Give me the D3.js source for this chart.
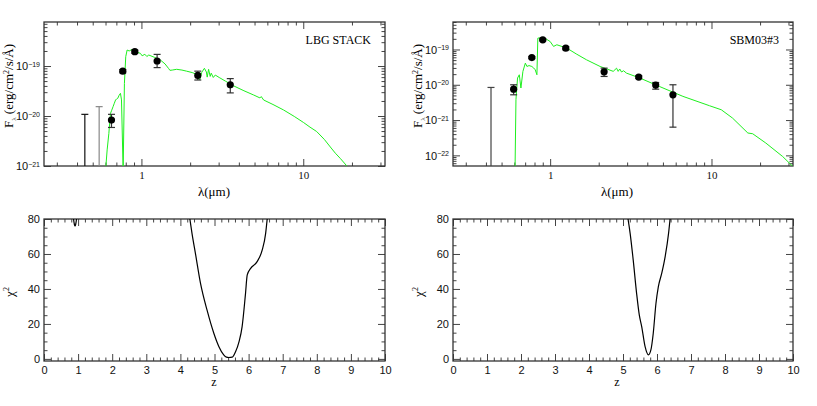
<!DOCTYPE html>
<html>
<head>
<meta charset="utf-8">
<script src="https://cdn.jsdelivr.net/npm/d3@7"></script>
<style>
  body { margin: 0; background: #fff; }
  svg { display: block; }
</style>
</head>
<body>
<script>
// ---- data ----
// LBG STACK: model spectrum (micron, erg/cm2/s/A)
var lbgWave = [0.600, 0.614, 0.629, 0.644, 0.655, 0.668, 0.680, 0.692, 0.703, 0.714, 0.728, 0.742, 0.753, 0.771,
  0.785, 0.800, 0.816, 0.840, 0.876, 0.92, 0.986, 1.01, 1.05, 1.08, 1.11, 1.20, 1.31, 1.40, 1.47, 1.50, 1.55, 1.65,
  1.78, 1.90, 2.06, 2.15, 2.29, 2.36, 2.45, 2.52, 2.55, 2.60, 2.66, 2.70, 2.78, 2.86, 3.05, 3.30, 3.72, 4.30, 4.94,
  5.40, 5.50, 5.69, 6.50, 7.56, 8.80, 10.05, 11.0, 12.1, 13.5, 14.7, 15.8, 17.0, 18.6, 19.5];
var lbgFlux = [8e-22, 2.1e-21, 4.5e-21, 1.13e-20, 1.3e-20, 1.54e-20, 1.8e-20, 2.09e-20, 2.2e-20, 2.26e-20, 2.6e-20,
  2.84e-20, 2.1e-20, 8e-22, 4.5e-20, 1.54e-19, 2.09e-19, 2.0e-19, 2.15e-19, 1.95e-19, 1.79e-19, 1.6e-19, 1.72e-19,
  1.55e-19, 1.66e-19, 1.5e-19, 1.32e-19, 1.1e-19, 8.98e-20, 8.2e-20, 8.3e-20, 8.6e-20, 8.3e-20, 7.9e-20, 7.4e-20,
  7.0e-20, 5.25e-20, 7.5e-20, 9.0e-20, 7.6e-20, 6.0e-20, 8.6e-20, 6.2e-20, 7.2e-20, 5.9e-20, 6.6e-20, 5.8e-20,
  5.0e-20, 4.0e-20, 3.2e-20, 2.63e-20, 2.3e-20, 2.45e-20, 2.09e-20, 1.7e-20, 1.32e-20, 9.8e-21, 7.4e-21, 6.0e-21,
  4.9e-21, 3.4e-21, 2.4e-21, 1.8e-21, 1.4e-21, 1.0e-21, 8.5e-22];
// LBG STACK: photometry
var lbgPhotWave = [0.653, 0.767, 0.91, 1.25, 2.23, 3.54];
var lbgPhotFlux = [8.3e-21, 7.9e-20, 1.94e-19, 1.26e-19, 6.5e-20, 4.2e-20];
var lbgPhotLo = [5.9e-21, 7.3e-20, 1.80e-19, 9.3e-20, 5.25e-20, 2.9e-20];
var lbgPhotHi = [1.08e-20, 8.5e-20, 2.08e-19, 1.71e-19, 7.9e-20, 5.6e-20];
var lbgLimWave = [0.447, 0.548];
var lbgLimFlux = [1.08e-20, 1.54e-20];

// SBM03#3: model spectrum
var sbmWave = [0.606, 0.614, 0.628, 0.644, 0.659, 0.678, 0.702, 0.718, 0.740, 0.770, 0.790, 0.808, 0.828, 0.839,
  0.870, 0.91, 1.00, 1.05, 1.10, 1.27, 1.45, 1.68, 2.04, 2.46, 2.58, 2.64, 2.70, 2.77, 2.85, 2.97, 3.60, 4.77, 6.65,
  9.72, 11.5, 13.5, 16.8, 18.0, 21.7, 27.6, 32.0];
var sbmFlux = [4e-23, 3.8e-21, 1.55e-20, 1.92e-20, 8.1e-21, 2.4e-20, 4.1e-20, 3.3e-20, 3.5e-20, 3.3e-20,
  3.0e-20, 2.66e-20, 1.92e-20, 2.09e-19, 2.15e-19, 2.2e-19, 1.68e-19, 1.22e-19, 1.36e-19, 1.09e-19, 7.5e-20,
  5.1e-20, 3.3e-20, 2.4e-20, 2.95e-20, 2.4e-20, 2.8e-20, 2.3e-20, 2.5e-20, 2.14e-20, 1.55e-20, 8.9e-21, 4.7e-21,
  2.55e-21, 1.96e-21, 1.14e-21, 4.3e-22, 4.1e-22, 2.24e-22, 9.3e-23, 4.8e-23];
// SBM03#3: photometry
var sbmPhotWave = [0.594, 0.77, 0.90, 1.25, 2.16, 3.54, 4.51, 5.77];
var sbmPhotFlux = [7.5e-21, 5.9e-20, 1.88e-19, 1.09e-19, 2.33e-20, 1.65e-20, 9.8e-21, 5.2e-21];
var sbmPhotLo = [5.2e-21, 5.5e-20, 1.75e-19, 9.8e-20, 1.72e-20, 1.5e-20, 7.5e-21, 6.3e-22];
var sbmPhotHi = [1.0e-20, 6.3e-20, 2.0e-19, 1.2e-19, 2.96e-20, 1.8e-20, 1.16e-20, 1.0e-20];
var sbmLimWave = [0.43];
var sbmLimFlux = [8.4e-21];

// chi-square vs redshift
var lbgChiZ = [0.86, 0.89, 0.91, 0.93, 0.96, 4.27, 4.34, 4.44, 4.59, 4.78, 4.98, 5.13, 5.27, 5.35, 5.42, 5.52,
  5.62, 5.72, 5.81, 5.91, 5.96, 6.06, 6.25, 6.40, 6.50, 6.55];
var lbgChi = [81, 77, 76, 77, 81, 81, 71.8, 60.4, 43.2, 28, 14.7, 7, 2.3, 1.0, 0.8, 1.0, 4.2, 9.9, 18.5, 37.5, 48,
  51.8, 55.6, 62.3, 71.8, 81];
var sbmChiZ = [5.14, 5.21, 5.30, 5.40, 5.48, 5.55, 5.65, 5.75, 5.82, 5.89, 5.97, 6.04, 6.14, 6.24, 6.34, 6.39];
var sbmChi = [81, 71.8, 56.6, 37.5, 25, 18.5, 7, 2.3, 5.1, 14.7, 31.8, 41.3, 49, 58.5, 71.8, 81];

var svg = d3.select("body").append("svg")
  .attr("width", 817)
  .attr("height", 406);

var serif = "'Liberation Serif', 'Times New Roman', serif";
var sans = "'Liberation Sans', Arial, sans-serif";

function zip(a, b) { return a.map(function (v, i) { return [v, b[i]]; }); }

function minorLog(lo, hi) {
  var out = [];
  for (var e = -25; e < 3; e++) {
    for (var m = 2; m <= 9; m++) {
      var v = m * Math.pow(10, e);
      if (v >= lo && v <= hi) out.push(v);
    }
  }
  return out;
}
function majorLog(lo, hi) {
  var out = [];
  for (var e = -25; e < 3; e++) {
    var v = Math.pow(10, e);
    if (v >= lo * 0.999 && v <= hi) out.push(v);
  }
  return out;
}

// draw axes with inward ticks on all four sides
function frameAxes(g, x, y, w, h, xMaj, xMin, yMaj, yMin, xFmt, yFmt, xFont, yFont) {
  var tc = "#444";
  function style(sel, fam) {
    sel.select(".domain").remove();
    sel.selectAll(".tick line").attr("stroke", tc).attr("stroke-width", 1);
    sel.selectAll(".tick text").attr("font-family", fam).attr("font-size", 11).attr("fill", "#111");
  }
  g.append("g").attr("transform", "translate(0," + h + ")")
    .call(d3.axisBottom(x).tickValues(xMaj).tickSizeInner(-7).tickSizeOuter(0).tickPadding(5).tickFormat(xFmt))
    .call(style, xFont);
  g.append("g").attr("transform", "translate(0," + h + ")")
    .call(d3.axisBottom(x).tickValues(xMin).tickSizeInner(-3.5).tickSizeOuter(0).tickFormat(""))
    .call(style, xFont);
  g.append("g")
    .call(d3.axisTop(x).tickValues(xMaj).tickSizeInner(-7).tickSizeOuter(0).tickFormat(""))
    .call(style, xFont);
  g.append("g")
    .call(d3.axisTop(x).tickValues(xMin).tickSizeInner(-3.5).tickSizeOuter(0).tickFormat(""))
    .call(style, xFont);
  var ly = g.append("g")
    .call(d3.axisLeft(y).tickValues(yMaj).tickSizeInner(-7).tickSizeOuter(0).tickPadding(4).tickFormat(yFmt))
    .call(style, yFont);
  g.append("g")
    .call(d3.axisLeft(y).tickValues(yMin).tickSizeInner(-3.5).tickSizeOuter(0).tickFormat(""))
    .call(style, yFont);
  g.append("g").attr("transform", "translate(" + w + ",0)")
    .call(d3.axisRight(y).tickValues(yMaj).tickSizeInner(-7).tickSizeOuter(0).tickFormat(""))
    .call(style, yFont);
  g.append("g").attr("transform", "translate(" + w + ",0)")
    .call(d3.axisRight(y).tickValues(yMin).tickSizeInner(-3.5).tickSizeOuter(0).tickFormat(""))
    .call(style, yFont);
  g.append("rect").attr("width", w).attr("height", h)
    .attr("fill", "none").attr("stroke", "#333").attr("stroke-width", 1.3);
  return ly;
}

function sedPanel(id, left, top, w, h, yDomain, spec, phot, lims, limColors, label, titleX) {
  var g = svg.append("g").attr("transform", "translate(" + left + "," + top + ")");
  var x = d3.scaleLog().domain([0.25, 32]).range([0, w]);
  var y = d3.scaleLog().domain(yDomain).range([h, 0]);

  g.append("clipPath").attr("id", id).append("rect").attr("width", w).attr("height", h);

  var ly = frameAxes(g, x, y, w, h,
    [1, 10], minorLog(0.25, 32),
    majorLog(yDomain[0], yDomain[1]), minorLog(yDomain[0], yDomain[1]),
    function (d) { return d3.format("d")(d); }, "", serif, sans);

  // 10^n labels with superscript
  ly.selectAll(".tick text").each(function (d) {
    var t = d3.select(this).text(null).attr("font-size", 11).attr("dy", "0.35em");
    t.append("tspan").text("10");
    t.append("tspan").attr("dy", "-0.55em").attr("font-size", 7).text("\u2212" + Math.round(-Math.log10(d)));
  });

  var plot = g.append("g").attr("clip-path", "url(#" + id + ")");

  // upper limits
  lims.forEach(function (p, i) {
    var px = x(p[0]);
    plot.append("line").attr("x1", px).attr("x2", px).attr("y1", y(p[1])).attr("y2", h)
      .attr("stroke", limColors[i]).attr("stroke-width", 1.2);
    plot.append("line").attr("x1", px - 3.5).attr("x2", px + 3.5).attr("y1", y(p[1])).attr("y2", y(p[1]))
      .attr("stroke", limColors[i]).attr("stroke-width", 1.2);
  });

  var line = d3.line().x(function (d) { return x(d[0]); }).y(function (d) { return y(d[1]); });
  plot.append("path").datum(spec).attr("d", line)
    .attr("fill", "none").attr("stroke", "#1ef01e").attr("stroke-width", 1);

  // error bars
  phot.forEach(function (p) {
    var px = x(p[0]);
    plot.append("line").attr("x1", px).attr("x2", px).attr("y1", y(p[3])).attr("y2", y(p[2]))
      .attr("stroke", "#333").attr("stroke-width", 1.2);
    [p[2], p[3]].forEach(function (v) {
      plot.append("line").attr("x1", px - 3.5).attr("x2", px + 3.5).attr("y1", y(v)).attr("y2", y(v))
        .attr("stroke", "#333").attr("stroke-width", 1.2);
    });
  });
  plot.selectAll("circle.pt").data(phot).enter().append("circle")
    .attr("cx", function (d) { return x(d[0]); })
    .attr("cy", function (d) { return y(d[1]); })
    .attr("r", 3.6).attr("fill", "#000");

  g.append("text").attr("x", w - 14).attr("y", 22).attr("text-anchor", "end")
    .attr("font-family", serif).attr("font-size", 12).text(label);

  g.append("text").attr("x", titleX)
    .attr("y", h + 30).attr("text-anchor", "middle")
    .attr("font-family", serif).attr("font-size", 13).text("\u03bb(\u03bcm)");

  var yl = g.append("text").attr("transform", "translate(" + (-31) + "," + (h / 2 - 8) + ") rotate(-90)")
    .attr("text-anchor", "middle").attr("font-family", serif).attr("font-size", 13);
  yl.append("tspan").text("F");
  yl.append("tspan").attr("dy", 3).attr("font-size", 7).text("\u03bb");
  yl.append("tspan").attr("dy", -3).text(" (erg/cm");
  yl.append("tspan").attr("dy", -4).attr("font-size", 8).text("2");
  yl.append("tspan").attr("dy", 4).text("/s/\u00c5)");
}

function chiPanel(id, left, top, w, h, zs, chis, titleX) {
  var g = svg.append("g").attr("transform", "translate(" + left + "," + top + ")");
  var x = d3.scaleLinear().domain([0, 10]).range([0, w]);
  var y = d3.scaleLinear().domain([-1.2, 80]).range([h, 0]);
  g.append("clipPath").attr("id", id).append("rect").attr("width", w).attr("height", h);

  frameAxes(g, x, y, w, h,
    d3.range(0, 11), d3.range(0, 50).map(function (i) { return i * 0.2; }).filter(function (v, i) { return i % 5 !== 0; }),
    [0, 20, 40, 60, 80], d3.range(5, 80, 5).filter(function (v) { return v % 20 !== 0; }),
    d3.format("d"), d3.format("d"), sans, sans);

  var line = d3.line().curve(d3.curveMonotoneX)
    .x(function (d) { return x(d[0]); }).y(function (d) { return y(d[1]); });
  var plot = g.append("g").attr("clip-path", "url(#" + id + ")");
  // split into separate pieces where the curve leaves the frame
  var pts = zip(zs, chis), seg = [], segs = [];
  pts.forEach(function (p, i) {
    seg.push(p);
    if (i > 0 && p[1] > 80 && seg.length > 1) { segs.push(seg); seg = [p]; }
  });
  segs.forEach(function (s) {
    if (s.length > 1) plot.append("path").datum(s).attr("d", line)
      .attr("fill", "none").attr("stroke", "#000").attr("stroke-width", 1.2);
  });

  g.append("text").attr("x", titleX).attr("y", h + 25).attr("text-anchor", "middle")
    .attr("font-family", serif).attr("font-size", 12).text("z");
  var yl = g.append("text").attr("transform", "translate(" + (-30) + "," + (h / 2 + 2) + ") rotate(-90)")
    .attr("text-anchor", "middle").attr("font-family", serif).attr("font-size", 13);
  yl.append("tspan").text("\u03c7");
  yl.append("tspan").attr("dy", -5).attr("font-size", 8).text("2");
}

sedPanel("c1", 44, 22, 341, 144, [1e-21, 7.6e-19],
  zip(lbgWave, lbgFlux),
  lbgPhotWave.map(function (v, i) { return [v, lbgPhotFlux[i], lbgPhotLo[i], lbgPhotHi[i]]; }),
  zip(lbgLimWave, lbgLimFlux), ["#111", "#888"], "LBG STACK", 170);

sedPanel("c2", 453, 22, 340, 144, [5e-23, 6e-19],
  zip(sbmWave, sbmFlux),
  sbmPhotWave.map(function (v, i) { return [v, sbmPhotFlux[i], sbmPhotLo[i], sbmPhotHi[i]]; }),
  zip(sbmLimWave, sbmLimFlux), ["#444"], "SBM03#3", 164);

chiPanel("c3", 44, 219, 341, 142, lbgChiZ, lbgChi, 170);
chiPanel("c4", 453, 219, 340, 142, sbmChiZ, sbmChi, 164);
</script>
</body>
</html>
